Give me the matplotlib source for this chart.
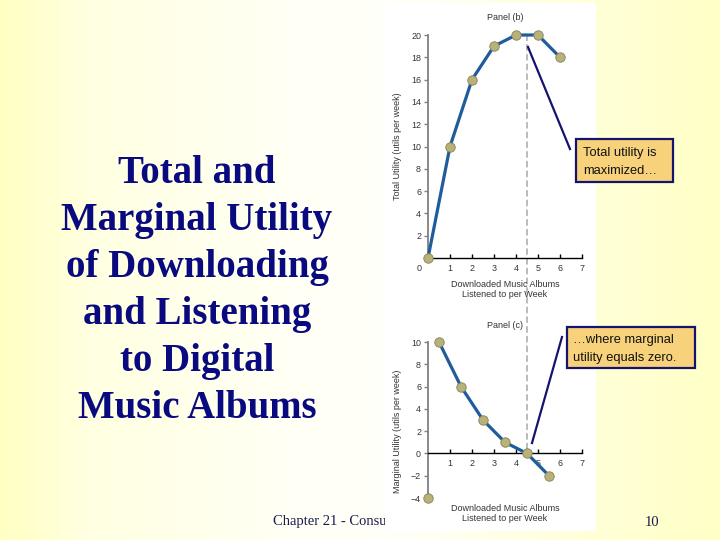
import numpy as np
import matplotlib
matplotlib.use("Agg")
import matplotlib.pyplot as plt
from matplotlib.patches import Rectangle, ConnectionPatch
from matplotlib.lines import Line2D

# data
albums = [0, 1, 2, 3, 4, 5, 6]
total_utility = [0, 10, 16, 19, 20, 20, 18]
mu_albums = [0.5, 1.5, 2.5, 3.5, 4.5, 5.5]
marginal_utility = [10, 6, 3, 1, 0, -2]
stray_x, stray_y = [0], [-4]
max_point = 4.5
tu_ticks = [2, 4, 6, 8, 10, 12, 14, 16, 18, 20]
mu_ticks = [-4, -2, 0, 2, 4, 6, 8, 10]
x_ticks = [1, 2, 3, 4, 5, 6, 7]

title_lines = ["Total and", "Marginal Utility", "of Downloading",
               "and Listening", "to Digital", "Music Albums"]

W, H = 720, 540
LINE = "#1f5c9c"
DOT = "#b8b27a"
DOT_EDGE = "#858055"
NAVY = "#14146e"
BOXFILL = "#f7d27a"
GREY = "#333333"


def fx(x):
    return x / W


def fy(y):
    return 1 - y / H


fig = plt.figure(figsize=(7.2, 5.4), dpi=100)

# slide background gradient (yellow edges, paler middle)
bg = fig.add_axes([0, 0, 1, 1], zorder=-10)
xs = np.linspace(0, 1, 400)
blue = np.interp(xs, [0, 0.12, 0.4, 0.55, 0.83, 1.0], [195, 225, 245, 250, 215, 198])
img = np.ones((1, 400, 3))
img[0, :, 2] = blue / 255
bg.imshow(img, aspect="auto", extent=[0, 1, 0, 1])
bg.axis("off")

# footer (partly hidden behind the pasted figure)
fig.text(fx(273), fy(522), "Chapter 21 - Consumer Choice", family="Liberation Serif",
         fontsize=10.5, color="#1a1a50", va="center", zorder=1)
fig.text(fx(652), fy(522), "10", family="Liberation Serif", fontsize=10.5,
         color="#1a1a50", va="center", ha="center", zorder=1)

# white image panel
fig.add_artist(Rectangle((fx(385), fy(531)), fx(596 - 385), (531 - 3) / H,
                         transform=fig.transFigure, facecolor="white",
                         edgecolor="none", zorder=2))

# title on the left
for i, t in enumerate(title_lines):
    fig.text(fx(197), fy(183 + 47 * i), t, family="Liberation Serif",
             weight="bold", fontsize=28, color="#0a0a80", ha="center",
             va="baseline")

small = dict(family="Liberation Sans", fontsize=6.5, color=GREY)


def style_axes(ax):
    ax.set_facecolor("none")
    ax.spines["top"].set_visible(False)
    ax.spines["right"].set_visible(False)
    ax.spines["left"].set_color("#808080")
    ax.spines["left"].set_linewidth(1.3)
    ax.spines["bottom"].set_color("black")
    ax.spines["bottom"].set_linewidth(1.0)
    ax.tick_params(axis="y", direction="out", length=3, width=1.0,
                   color="#808080", labelsize=6.4, labelcolor=GREY, pad=2)
    ax.tick_params(axis="x", direction="in", length=3, width=1.0,
                   color="black", labelsize=6.4, labelcolor=GREY, pad=4)
    for lab in ax.get_xticklabels() + ax.get_yticklabels():
        lab.set_family("Liberation Sans")


# Panel (b): total utility
axb = fig.add_axes([fx(428), fy(258), fx(582 - 428), (258 - 35) / H], zorder=5)
axb.plot(albums, total_utility, color=LINE, lw=2.3, marker="o", ms=6.8,
         mfc=DOT, mec=DOT_EDGE, mew=0.6, clip_on=False, zorder=3)
axb.set_xlim(0, 7)
axb.set_ylim(0, 20)
axb.set_xticks(x_ticks)
axb.set_yticks(tu_ticks)
style_axes(axb)
axb.annotate("0", xy=(0, 0), xytext=(-6.5, -7.5), textcoords="offset points",
             ha="center", va="center", **small)
axb.set_ylabel("Total Utility (utils per week)", **small)
axb.yaxis.set_label_coords(-0.17, 0.5)
axb.set_xlabel("Downloaded Music Albums\nListened to per Week", linespacing=1.15, **small)
axb.xaxis.set_label_coords(0.5, -0.1)
axb.set_title("Panel (b)", pad=11, **small)

# Panel (c): marginal utility
axc = fig.add_axes([fx(428), fy(498), fx(582 - 428), (498 - 342) / H], zorder=5)
axc.plot(mu_albums, marginal_utility, color=LINE, lw=2.3, marker="o", ms=6.8,
         mfc=DOT, mec=DOT_EDGE, mew=0.6, clip_on=False, zorder=3)
axc.plot(stray_x, stray_y, ls="none", marker="o", ms=6.8, mfc=DOT,
         mec=DOT_EDGE, mew=0.6, clip_on=False, zorder=3)
axc.set_xlim(0, 7)
axc.set_ylim(-4, 10)
axc.spines["bottom"].set_position(("data", 0))
axc.set_xticks(x_ticks)
axc.set_yticks(mu_ticks)
axc.set_yticklabels([str(v).replace("-", "\u2212") for v in mu_ticks])
style_axes(axc)
axc.set_ylabel("Marginal Utility (utils per week)", **small)
axc.yaxis.set_label_coords(-0.17, 0.43)
axc.set_xlabel("Downloaded Music Albums\nListened to per Week", linespacing=1.15, **small)
axc.xaxis.set_label_coords(0.5, -0.04)
axc.set_title("Panel (c)", pad=10, **small)

# dashed line linking the maximum with MU = 0
con = ConnectionPatch(xyA=(max_point, 20), coordsA=axb.transData,
                      xyB=(max_point, 0), coordsB=axc.transData,
                      color="#a0a0a0", lw=1.0, ls=(0, (4, 3)), zorder=4.5)
fig.add_artist(con)

# callouts
def callout(x0, y0, x1, y1, lines, tx, ty, seg):
    fig.add_artist(Rectangle((fx(x0), fy(y1)), fx(x1 - x0), (y1 - y0) / H,
                             transform=fig.transFigure, facecolor=BOXFILL,
                             edgecolor=NAVY, lw=1.6, zorder=7))
    for i, t in enumerate(lines):
        fig.text(fx(tx), fy(ty + 18 * i), t, family="Liberation Sans",
                 fontsize=9.3, color="#111111", va="center", zorder=8)
    (ax0, ay0), (ax1, ay1) = seg
    fig.add_artist(Line2D([fx(ax0), fx(ax1)], [fy(ay0), fy(ay1)],
                          transform=fig.transFigure, color=NAVY, lw=1.6, zorder=7))


callout(576, 139, 673, 182, ["Total utility is", "maximized\u2026"], 583, 153,
        ((528, 47), (570, 149)))
callout(567, 327, 695, 368, ["\u2026where marginal", "utility equals zero."], 573, 340,
        ((532, 443), (562, 337)))

fig.savefig("out.png", dpi=100)
